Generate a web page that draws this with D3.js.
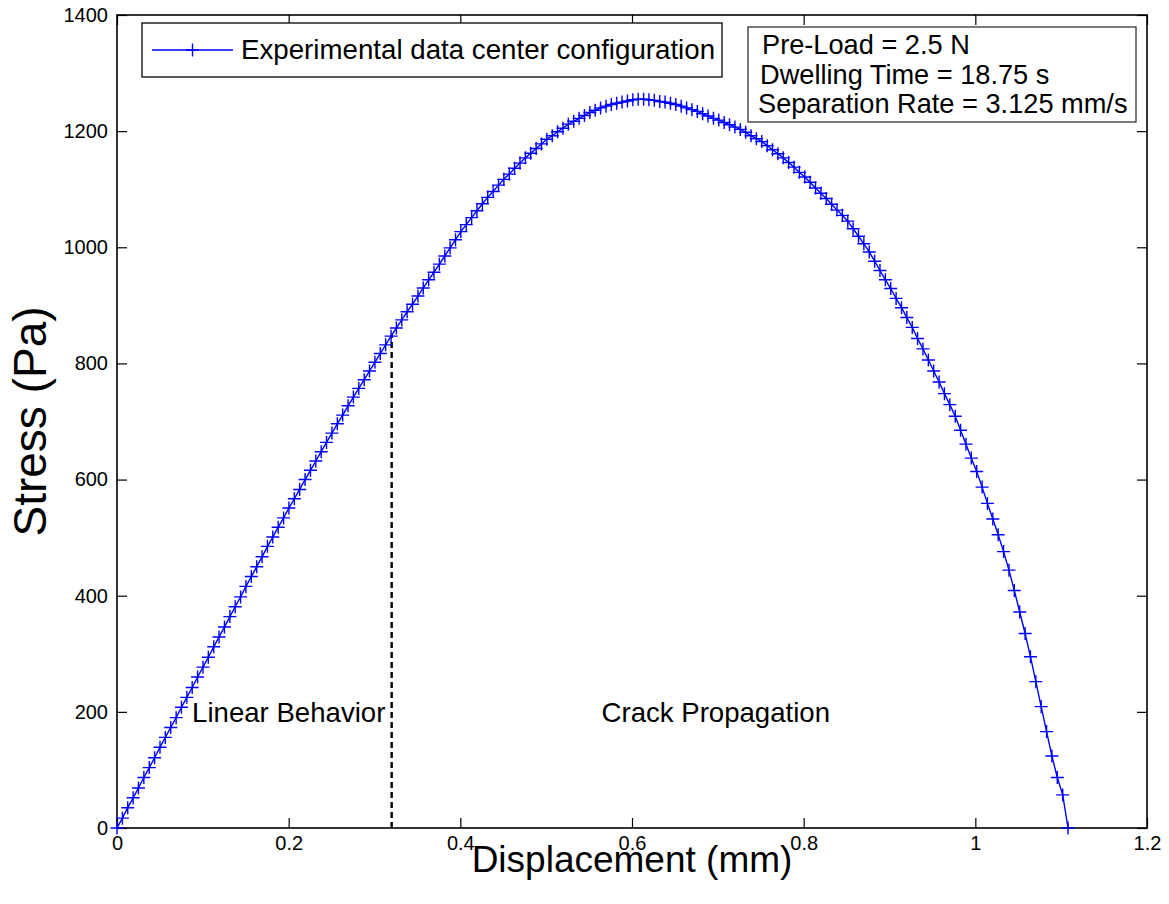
<!DOCTYPE html>
<html>
<head>
<meta charset="utf-8">
<script src="https://cdn.jsdelivr.net/npm/d3@7"></script>
<style>
  html, body { margin: 0; padding: 0; background: #fff; }
  svg { display: block; font-family: "Liberation Sans", Arial, Helvetica, sans-serif; }
</style>
</head>
<body>
<svg id="chart" width="1169" height="904"></svg>
<script>
// ---------------- data ----------------
const displacement = [
  0, 0.0063, 0.0125, 0.0188, 0.025, 0.0313, 0.0376, 0.0438, 0.0501, 0.0563,
  0.0626, 0.0689, 0.0751, 0.0814, 0.0876, 0.0939, 0.1002, 0.1064, 0.1127, 0.1189,
  0.1252, 0.1315, 0.1377, 0.144, 0.1502, 0.1565, 0.1628, 0.169, 0.1753, 0.1815,
  0.1878, 0.1941, 0.2003, 0.2066, 0.2128, 0.2191, 0.2254, 0.2316, 0.2379, 0.2441,
  0.2504, 0.2567, 0.2629, 0.2692, 0.2754, 0.2817, 0.288, 0.2942, 0.3005, 0.3067,
  0.313, 0.3193, 0.3255, 0.3318, 0.338, 0.3443, 0.3506, 0.3568, 0.3631, 0.3693,
  0.3756, 0.3819, 0.3881, 0.3944, 0.4006, 0.4069, 0.4132, 0.4194, 0.4257, 0.4319,
  0.4382, 0.4445, 0.4507, 0.457, 0.4632, 0.4695, 0.4758, 0.482, 0.4883, 0.4945,
  0.5008, 0.5071, 0.5133, 0.5196, 0.5258, 0.5321, 0.5384, 0.5446, 0.5509, 0.5571,
  0.5634, 0.5697, 0.5759, 0.5822, 0.5884, 0.5947, 0.601, 0.6072, 0.6135, 0.6197,
  0.626, 0.6323, 0.6385, 0.6448, 0.651, 0.6573, 0.6636, 0.6698, 0.6761, 0.6823,
  0.6886, 0.6949, 0.7011, 0.7074, 0.7136, 0.7199, 0.7262, 0.7324, 0.7387, 0.7449,
  0.7512, 0.7575, 0.7637, 0.77, 0.7762, 0.7825, 0.7888, 0.795, 0.8013, 0.8075,
  0.8138, 0.8201, 0.8263, 0.8326, 0.8388, 0.8451, 0.8514, 0.8576, 0.8639, 0.8701,
  0.8764, 0.8827, 0.8889, 0.8952, 0.9014, 0.9077, 0.914, 0.9202, 0.9265, 0.9327,
  0.939, 0.9453, 0.9515, 0.9578, 0.964, 0.9703, 0.9766, 0.9828, 0.9891, 0.9953,
  1.0016, 1.0079, 1.0141, 1.0204, 1.0266, 1.0329, 1.0392, 1.0454, 1.0517, 1.058,
  1.0642, 1.0705, 1.0767, 1.083, 1.0892, 1.0955, 1.1018, 1.108
];
const stress = [
  0, 17, 35, 52, 69, 87, 104, 121, 139, 156,
  173, 190, 208, 225, 242, 260, 277, 294, 312, 329,
  346, 364, 381, 398, 416, 433, 450, 467, 485, 501,
  518, 534, 551, 567, 583, 600, 616, 632, 648, 664,
  680, 696, 711, 727, 742, 757, 772, 787, 802, 817,
  832, 847, 861, 875, 889, 902, 916, 930, 944, 957,
  971, 985, 999, 1013, 1027, 1039, 1051, 1063, 1075, 1086,
  1096, 1107, 1117, 1126, 1136, 1145, 1154, 1162, 1170, 1178,
  1186, 1192, 1199, 1205, 1212, 1217, 1222, 1227, 1232, 1236,
  1240, 1243, 1246, 1248, 1250, 1252, 1254, 1255, 1255, 1254,
  1253, 1251, 1250, 1248, 1246, 1243, 1240, 1237, 1234, 1230,
  1226, 1222, 1219, 1215, 1211, 1207, 1203, 1198, 1192, 1187,
  1182, 1175, 1168, 1161, 1154, 1146, 1138, 1129, 1121, 1112,
  1102, 1093, 1084, 1074, 1064, 1055, 1045, 1032, 1019, 1006,
  992, 976, 960, 944, 929, 912, 896, 879, 862, 843,
  825, 806, 787, 768, 748, 729, 709, 685, 661, 637,
  614, 587, 559, 532, 505, 476, 444, 409, 372, 335,
  295, 252, 209, 166, 124, 87, 57, 0
];
const xTicks = [0, 0.2, 0.4, 0.6, 0.8, 1, 1.2];
const yTicks = [0, 200, 400, 600, 800, 1000, 1200, 1400];
const seriesName = "Experimental data center configuration";
const infoLines = ["Pre-Load = 2.5 N", "Dwelling Time = 18.75 s", "Separation Rate = 3.125 mm/s"];
const linearLimit = 0.32;        // mm, end of linear behaviour
const linearLimitStress = 850;   // Pa, where the dashed line meets the curve
const regionLabels = [
  { text: "Linear Behavior", x: 0.0875, y: 200 },
  { text: "Crack Propagation", x: 0.5645, y: 200 }
];

// ---------------- layout ----------------
const svg = d3.select("#chart");
const L = 117, R = 1147, T = 15, B = 828;
const x = d3.scaleLinear().domain([0, 1.2]).range([L, R]);
const y = d3.scaleLinear().domain([0, 1400]).range([B, T]);
const data = displacement.map((d, i) => ({ x: d, y: stress[i] }));
const blue = "#0000ff";

svg.append("rect").attr("width", 1169).attr("height", 904).attr("fill", "#fff");

// axes (MATLAB style: ticks inward, on all four sides)
const tickLen = 10;
const fmt = d => String(d);
const xb = svg.append("g").attr("transform", `translate(0,${B})`)
  .call(d3.axisBottom(x).tickValues(xTicks).tickFormat(fmt).tickSizeInner(-tickLen).tickSizeOuter(0).tickPadding(13));
const xt = svg.append("g").attr("transform", `translate(0,${T})`)
  .call(d3.axisTop(x).tickValues(xTicks).tickFormat("").tickSizeInner(-tickLen).tickSizeOuter(0));
const yl = svg.append("g").attr("transform", `translate(${L},0)`)
  .call(d3.axisLeft(y).tickValues(yTicks).tickFormat(fmt).tickSizeInner(-tickLen).tickSizeOuter(0).tickPadding(9));
const yr = svg.append("g").attr("transform", `translate(${R},0)`)
  .call(d3.axisRight(y).tickValues(yTicks).tickFormat("").tickSizeInner(-tickLen).tickSizeOuter(0));
[xb, xt, yl, yr].forEach(g => {
  g.select(".domain").remove();
  g.selectAll(".tick line").attr("stroke", "#000").attr("stroke-width", 1.2);
  g.selectAll("text").attr("fill", "#000").attr("font-size", 20)
    .attr("font-family", "'Liberation Sans', Arial, sans-serif");
});
xb.selectAll("text").attr("dy", "0.45em");

// frame
svg.append("rect").attr("x", L).attr("y", T).attr("width", R - L).attr("height", B - T)
  .attr("fill", "none").attr("stroke", "#000").attr("stroke-width", 1.6);

// dashed separation line
svg.append("line")
  .attr("x1", x(linearLimit)).attr("x2", x(linearLimit))
  .attr("y1", y(0)).attr("y2", y(linearLimitStress))
  .attr("stroke", "#000").attr("stroke-width", 2.4).attr("stroke-dasharray", "6,4");

// curve
svg.append("path").datum(data)
  .attr("d", d3.line().x(d => x(d.x)).y(d => y(d.y)))
  .attr("fill", "none").attr("stroke", blue).attr("stroke-width", 1.4);

// plus markers
const ms = 6.5;
const mk = svg.append("g").attr("stroke", blue).attr("stroke-width", 1.4);
mk.selectAll("path").data(data).join("path")
  .attr("d", d => {
    const cx = x(d.x), cy = y(d.y);
    return `M${cx - ms},${cy}H${cx + ms}M${cx},${cy - ms}V${cy + ms}`;
  });

// region labels
svg.selectAll("text.region").data(regionLabels).join("text")
  .attr("class", "region")
  .attr("x", d => x(d.x)).attr("y", d => y(d.y) + 10)
  .attr("font-size", 27.6).attr("fill", "#000")
  .text(d => d.text);

// axis titles
svg.append("text").attr("x", (L + R) / 2).attr("y", 872)
  .attr("text-anchor", "middle").attr("font-size", 37).attr("fill", "#000")
  .text("Displacement (mm)");
svg.append("text").attr("transform", `translate(46,${(T + B) / 2}) rotate(-90)`)
  .attr("text-anchor", "middle").attr("font-size", 46).attr("fill", "#000")
  .text("Stress (Pa)");

// legend
const lg = svg.append("g");
lg.append("rect").attr("x", 142).attr("y", 23).attr("width", 580).attr("height", 54)
  .attr("fill", "#fff").attr("stroke", "#000").attr("stroke-width", 1.3);
lg.append("line").attr("x1", 152).attr("x2", 233).attr("y1", 50).attr("y2", 50)
  .attr("stroke", blue).attr("stroke-width", 1.4);
lg.append("path").attr("d", `M${192.5 - ms},50H${192.5 + ms}M192.5,${50 - ms}V${50 + ms}`)
  .attr("stroke", blue).attr("stroke-width", 1.4);
lg.append("text").attr("x", 241).attr("y", 59).attr("font-size", 27.7).attr("fill", "#000")
  .text(seriesName);

// info box
const ib = svg.append("g");
ib.append("rect").attr("x", 748).attr("y", 27).attr("width", 388).attr("height", 95)
  .attr("fill", "#fff").attr("stroke", "#333").attr("stroke-width", 1.3);
const infoX = [762, 760, 758];
ib.selectAll("text").data(infoLines).join("text")
  .attr("x", (d, i) => infoX[i]).attr("y", (d, i) => 54 + i * 29.5)
  .attr("font-size", 27.2).attr("fill", "#000")
  .text(d => d);
</script>
</body>
</html>
